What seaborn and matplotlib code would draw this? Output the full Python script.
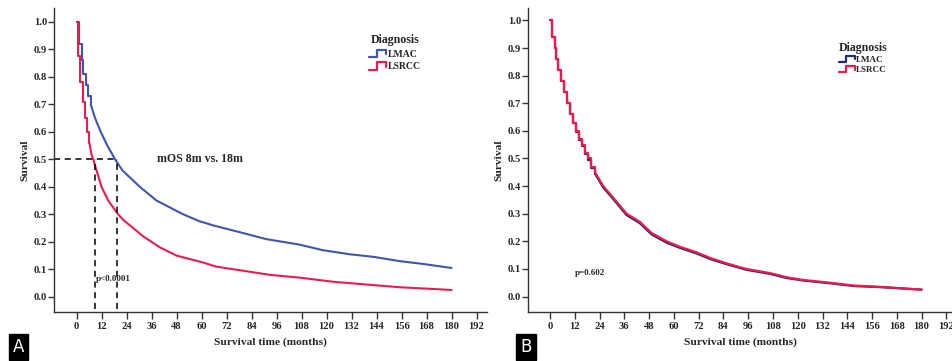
import matplotlib
matplotlib.use("Agg")
import matplotlib.pyplot as plt
from matplotlib.legend_handler import HandlerBase
from matplotlib.lines import Line2D
import seaborn as sns
import numpy as np
import pandas as pd

# ---- data (months, survival) ----
a_lmac_t = [0, 1, 1.3, 2.5, 3.3, 4.5, 5.4, 6.8, 8.9, 11.6, 14.8, 18.5, 22, 30.4, 38.4,
            51.2, 59, 65.5, 78.4, 91, 107, 118, 131, 143, 155, 166, 180]
a_lmac_s = [1.0, 1.0, 0.92, 0.86, 0.81, 0.77, 0.73, 0.70, 0.65, 0.60, 0.55, 0.50, 0.46, 0.40, 0.35,
            0.30, 0.275, 0.26, 0.235, 0.21, 0.19, 0.17, 0.155, 0.145, 0.13, 0.12, 0.105]
a_lsrcc_t = [0, 0.5, 0.9, 1.8, 3, 4.1, 5.2, 6.2, 7.1, 8, 10, 12, 15.2, 20, 22.4, 27.2, 32,
             40, 48, 60.7, 67, 80, 92.8, 107, 123, 139, 155, 168, 180]
a_lsrcc_s = [1.0, 1.0, 0.875, 0.78, 0.71, 0.65, 0.60, 0.56, 0.52, 0.50, 0.45, 0.40, 0.35, 0.30, 0.28, 0.25, 0.22,
             0.18, 0.15, 0.125, 0.11, 0.095, 0.08, 0.07, 0.055, 0.045, 0.035, 0.03, 0.025]

b_t = [0, 1.0, 2.4, 2.9, 4, 5.2, 6.9, 8, 9.7, 11, 12.6, 14, 15.3, 17, 18.6, 20, 21.8, 25.8, 31.5, 37.1,
       43.6, 49.2, 56.5, 63, 71, 77.5, 85.6, 95, 106.5, 114.6, 122.6, 135.6, 147, 160, 180]
b_lsrcc_s = [1.0, 0.94, 0.90, 0.86, 0.82, 0.78, 0.74, 0.70, 0.66, 0.63, 0.60, 0.57, 0.55, 0.52, 0.50, 0.47, 0.45,
             0.40, 0.35, 0.30, 0.27, 0.23, 0.20, 0.18, 0.16, 0.14, 0.12, 0.10, 0.085, 0.07, 0.06, 0.05, 0.04,
             0.035, 0.025]
b_lmac_offset = [0, 0, 0, 0, 0, 0, 0, 0, 0, 0, 0.003, 0.003, 0.004, 0.004, 0.004, 0.004, 0.005, 0.005, 0.005,
                 0.005, 0.005, 0.005, 0.005, 0.004, 0.004, 0.004, 0.003, 0.003, 0.003, 0.003, 0.002, 0.002,
                 0.002, 0.001, 0.0]
b_lmac_s = [s - o for s, o in zip(b_lsrcc_s, b_lmac_offset)]

median_os = [9, 19.5]
xticks = list(range(0, 193, 12))
yticks = [round(v * 0.1, 1) for v in range(11)]

blue_a = "#3f55b0"
red = "#ea1c4e"
navy = "#1f2a78"


def km_frame(t, s, name):
    return pd.DataFrame({"t": t, "s": s, "Diagnosis": name})


dfa = pd.concat([km_frame(a_lmac_t, a_lmac_s, "LMAC"), km_frame(a_lsrcc_t, a_lsrcc_s, "LSRCC")])
dfb = pd.concat([km_frame(b_t, b_lmac_s, "LMAC"), km_frame(b_t, b_lsrcc_s, "LSRCC")])

sns.set_style("white")
plt.rcParams["font.family"] = ["Liberation Serif", "DejaVu Serif"]
plt.rcParams["font.weight"] = "bold"


class StepHandler(HandlerBase):
    def create_artists(self, legend, orig_handle, xdescent, ydescent, width, height, fontsize, trans):
        x0 = -xdescent
        y0 = -ydescent
        xs = [x0, x0 + 0.45 * width, x0 + 0.45 * width, x0 + width, x0 + width]
        ys = [y0 + 0.05 * height, y0 + 0.05 * height, y0 + 0.95 * height, y0 + 0.95 * height, y0 + 0.4 * height]
        ln = Line2D(xs, ys, color=orig_handle.get_color(), lw=1.6)
        ln.set_transform(trans)
        return [ln]


fig = plt.figure(figsize=(9.53, 3.61), dpi=100)
W, H = 953, 361
axa = fig.add_axes([54 / W, 1 - 312 / H, (487 - 54) / W, (312 - 8) / H])
axb = fig.add_axes([528 / W, 1 - 312 / H, (953 - 528) / W, (312 - 8) / H])


def draw_km(ax, df, palette, lw, step_until):
    # early part as visible KM steps, the rest as a plain line
    parts = []
    for name, g in df.groupby("Diagnosis", sort=False):
        cut = g[g["t"] <= step_until]["t"].max()
        parts.append((g[g["t"] <= cut], g[g["t"] >= cut]))
    e = pd.concat([p[0] for p in parts])
    l = pd.concat([p[1] for p in parts])
    sns.lineplot(data=e, x="t", y="s", hue="Diagnosis", palette=palette, ax=ax, legend=False,
                 lw=lw, sort=False, estimator=None, drawstyle="steps-post")
    sns.lineplot(data=l, x="t", y="s", hue="Diagnosis", palette=palette, ax=ax, legend=False,
                 lw=lw, sort=False, estimator=None)


def style_axis(ax, xlim, ylim):
    ax.set_xlim(*xlim)
    ax.set_ylim(*ylim)
    ax.set_xticks(xticks)
    ax.set_yticks(yticks)
    ax.set_yticklabels([f"{v:.1f}" for v in yticks])
    for side in ["top", "right"]:
        ax.spines[side].set_visible(False)
    for side in ["left", "bottom"]:
        ax.spines[side].set_color("#333333")
        ax.spines[side].set_linewidth(1.0)
    ax.tick_params(axis="x", direction="out", length=5, width=1, color="#333333",
                   labelsize=7.6, pad=2, bottom=True)
    ax.tick_params(axis="y", direction="out", length=4, width=1, color="#333333",
                   labelsize=7.6, pad=1, left=True)
    ax.set_xlabel("Survival time (months)", fontsize=8.2, fontweight="bold", labelpad=5)
    ax.set_ylabel("Survival", fontsize=8.2, fontweight="bold", labelpad=3)


# ---- panel A ----
draw_km(axa, dfa, {"LMAC": blue_a, "LSRCC": red}, 1.5, 7)
style_axis(axa, (-10.8, 197), (-0.055, 1.05))
axa.hlines(0.5, -10.8, median_os[1], colors="black", linestyles=(0, (4, 3)), lw=1.1)
axa.vlines(median_os, -0.045, 0.5, colors="black", linestyles=(0, (4, 3)), lw=1.1)
axa.text(38.6, 0.5, "mOS 8m vs. 18m", fontsize=8.6, fontweight="bold", va="center", ha="left")
axa.text(9.3, 0.065, "p<0.0001", fontsize=6.5, fontweight="bold", va="center", ha="left")
ha = [Line2D([], [], color=blue_a), Line2D([], [], color=red)]
axa.legend(ha, ["LMAC", "LSRCC"], title="Diagnosis", frameon=False,
           handler_map={Line2D: StepHandler()}, loc="upper left",
           bbox_to_anchor=(364 / W, 1 - 29 / H), bbox_transform=fig.transFigure,
           prop={"size": 7, "weight": "bold"}, title_fontproperties={"size": 8.6, "weight": "bold"},
           handlelength=1.8, handleheight=0.9, handletextpad=0.1, labelspacing=0.35, borderpad=0)

# ---- panel B ----
draw_km(axb, dfb, {"LMAC": navy, "LSRCC": red}, 1.6, 22)
style_axis(axb, (-10.65, 195.2), (-0.056, 1.045))
axb.text(12.1, 0.085, "p=0.602", fontsize=6.5, fontweight="bold", va="center", ha="left")
hb = [Line2D([], [], color=navy), Line2D([], [], color=red)]
axb.legend(hb, ["LMAC", "LSRCC"], title="Diagnosis", frameon=False,
           handler_map={Line2D: StepHandler()}, loc="upper left",
           bbox_to_anchor=(834 / W, 1 - 37 / H), bbox_transform=fig.transFigure,
           prop={"size": 6.5, "weight": "bold"}, title_fontproperties={"size": 8.6, "weight": "bold"},
           handlelength=1.8, handleheight=0.8, handletextpad=0.1, labelspacing=0.2, borderpad=0)

# ---- panel letters ----
for letter, xc in [("A", 18.5), ("B", 526)]:
    fig.text(xc / W, 1 - 347 / H, letter, color="white", fontsize=12,
             family="DejaVu Sans", fontweight="normal", ha="center", va="center",
             bbox=dict(boxstyle="square,pad=0.25", fc="black", ec="black"))

fig.savefig("out.png", dpi=100)
